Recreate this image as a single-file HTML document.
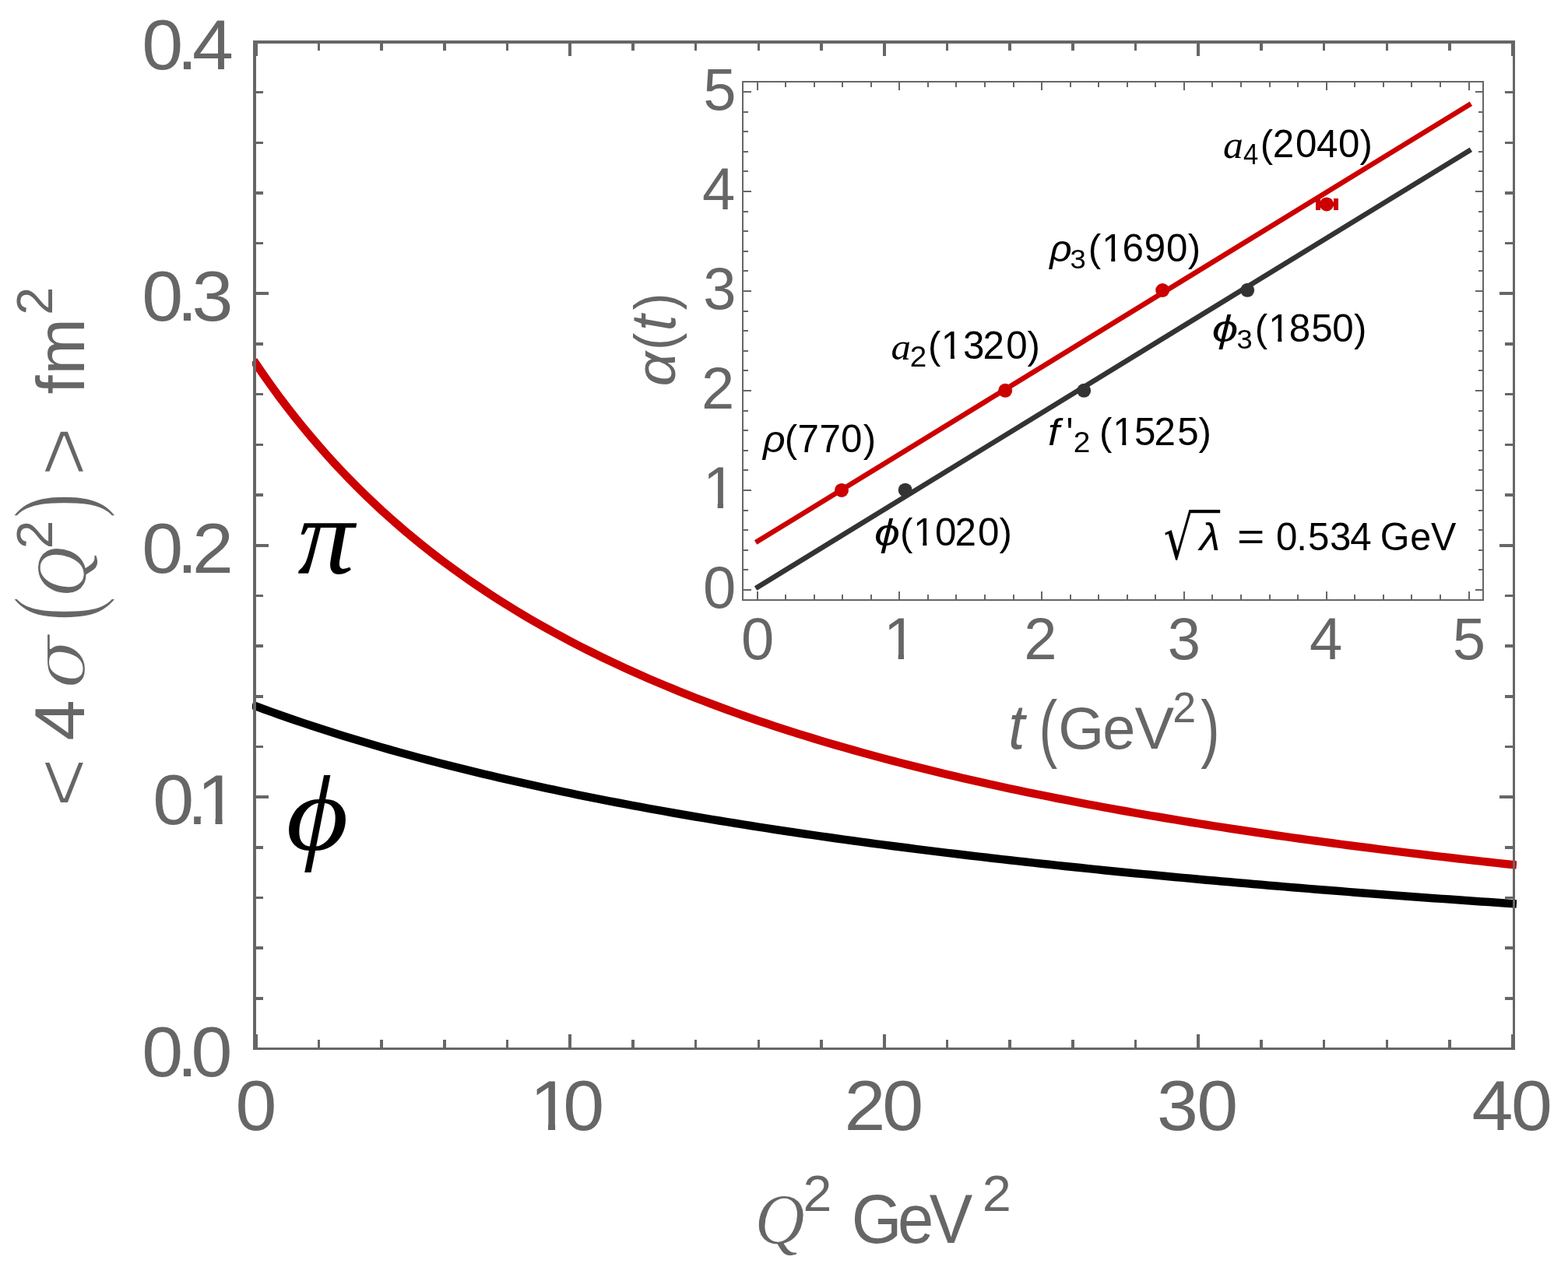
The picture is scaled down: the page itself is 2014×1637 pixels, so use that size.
<!DOCTYPE html>
<html lang="en"><head><meta charset="utf-8"><title>Transverse size and Regge trajectories</title>
<style>html,body{margin:0;padding:0;background:#fff;width:2014px;height:1637px;overflow:hidden}svg{display:block}text{font-kerning:none;white-space:pre}</style></head>
<body>
<svg width="2014" height="1637" viewBox="0 0 2014 1637">
<rect x="0" y="0" width="2014" height="1637" fill="#ffffff"/>
<defs><clipPath id="mc"><rect x="324" y="40" width="1624" height="1320"/></clipPath></defs>
<polyline points="328.8,467.57 338.89,482.28 348.97,496.51 359.06,510.28 369.15,523.61 379.23,536.53 389.32,549.04 399.41,561.18 409.5,572.95 419.58,584.37 429.67,595.47 439.76,606.24 449.84,616.71 459.93,626.89 470.02,636.79 480.1,646.42 490.19,655.79 500.28,664.91 510.36,673.8 520.45,682.46 530.54,690.9 540.62,699.13 550.71,707.15 560.8,714.98 570.88,722.62 580.97,730.08 591.06,737.36 601.15,744.47 611.23,751.42 621.32,758.21 631.41,764.84 641.49,771.33 651.58,777.68 661.67,783.88 671.75,789.96 681.84,795.9 691.93,801.72 702.01,807.42 712.1,813 722.19,818.46 732.28,823.82 742.36,829.06 752.45,834.21 762.54,839.25 772.62,844.19 782.71,849.04 792.8,853.8 802.88,858.46 812.97,863.04 823.06,867.54 833.14,871.95 843.23,876.28 853.32,880.53 863.4,884.71 873.49,888.81 883.58,892.84 893.66,896.8 903.75,900.7 913.84,904.52 923.93,908.28 934.01,911.98 944.1,915.61 954.19,919.19 964.27,922.71 974.36,926.16 984.45,929.57 994.53,932.92 1004.62,936.21 1014.71,939.46 1024.79,942.65 1034.88,945.79 1044.97,948.89 1055.06,951.93 1065.14,954.94 1075.23,957.89 1085.32,960.8 1095.4,963.67 1105.49,966.5 1115.58,969.28 1125.66,972.03 1135.75,974.73 1145.84,977.4 1155.92,980.03 1166.01,982.62 1176.1,985.18 1186.18,987.69 1196.27,990.18 1206.36,992.63 1216.45,995.05 1226.53,997.43 1236.62,999.78 1246.71,1002.11 1256.79,1004.4 1266.88,1006.66 1276.97,1008.89 1287.05,1011.09 1297.14,1013.26 1307.23,1015.41 1317.31,1017.53 1327.4,1019.62 1337.49,1021.68 1347.57,1023.72 1357.66,1025.73 1367.75,1027.72 1377.84,1029.69 1387.92,1031.63 1398.01,1033.54 1408.1,1035.44 1418.18,1037.31 1428.27,1039.16 1438.36,1040.98 1448.44,1042.79 1458.53,1044.57 1468.62,1046.34 1478.7,1048.08 1488.79,1049.8 1498.88,1051.5 1508.96,1053.19 1519.05,1054.85 1529.14,1056.5 1539.23,1058.13 1549.31,1059.74 1559.4,1061.33 1569.49,1062.9 1579.57,1064.46 1589.66,1066 1599.75,1067.52 1609.83,1069.03 1619.92,1070.52 1630.01,1071.99 1640.09,1073.45 1650.18,1074.9 1660.27,1076.33 1670.35,1077.74 1680.44,1079.14 1690.53,1080.52 1700.62,1081.89 1710.7,1083.25 1720.79,1084.59 1730.88,1085.92 1740.96,1087.24 1751.05,1088.54 1761.14,1089.83 1771.22,1091.11 1781.31,1092.37 1791.4,1093.62 1801.48,1094.86 1811.57,1096.09 1821.66,1097.31 1831.74,1098.51 1841.83,1099.7 1851.92,1100.88 1862.01,1102.05 1872.09,1103.21 1882.18,1104.36 1892.27,1105.5 1902.35,1106.62 1912.44,1107.74 1922.53,1108.85 1932.61,1109.94 1942.7,1111.03" fill="none" stroke="#cc0000" stroke-width="10.5" stroke-linecap="square" stroke-linejoin="round" clip-path="url(#mc)"/>
<polyline points="328.8,907.53 338.89,911.24 348.97,914.89 359.06,918.48 369.15,922.01 379.23,925.48 389.32,928.89 399.41,932.25 409.5,935.56 419.58,938.81 429.67,942.01 439.76,945.17 449.84,948.27 459.93,951.33 470.02,954.34 480.1,957.3 490.19,960.22 500.28,963.1 510.36,965.94 520.45,968.73 530.54,971.48 540.62,974.2 550.71,976.87 560.8,979.51 570.88,982.1 580.97,984.67 591.06,987.19 601.15,989.69 611.23,992.14 621.32,994.57 631.41,996.96 641.49,999.32 651.58,1001.64 661.67,1003.94 671.75,1006.21 681.84,1008.44 691.93,1010.65 702.01,1012.83 712.1,1014.98 722.19,1017.1 732.28,1019.2 742.36,1021.27 752.45,1023.31 762.54,1025.33 772.62,1027.33 782.71,1029.3 792.8,1031.24 802.88,1033.16 812.97,1035.06 823.06,1036.94 833.14,1038.79 843.23,1040.62 853.32,1042.43 863.4,1044.22 873.49,1045.98 883.58,1047.73 893.66,1049.46 903.75,1051.17 913.84,1052.85 923.93,1054.52 934.01,1056.17 944.1,1057.8 954.19,1059.42 964.27,1061.01 974.36,1062.59 984.45,1064.15 994.53,1065.69 1004.62,1067.22 1014.71,1068.73 1024.79,1070.22 1034.88,1071.7 1044.97,1073.16 1055.06,1074.61 1065.14,1076.04 1075.23,1077.46 1085.32,1078.86 1095.4,1080.25 1105.49,1081.62 1115.58,1082.98 1125.66,1084.33 1135.75,1085.66 1145.84,1086.98 1155.92,1088.28 1166.01,1089.57 1176.1,1090.85 1186.18,1092.12 1196.27,1093.37 1206.36,1094.62 1216.45,1095.85 1226.53,1097.06 1236.62,1098.27 1246.71,1099.47 1256.79,1100.65 1266.88,1101.82 1276.97,1102.98 1287.05,1104.13 1297.14,1105.27 1307.23,1106.4 1317.31,1107.52 1327.4,1108.63 1337.49,1109.72 1347.57,1110.81 1357.66,1111.89 1367.75,1112.96 1377.84,1114.02 1387.92,1115.07 1398.01,1116.1 1408.1,1117.13 1418.18,1118.16 1428.27,1119.17 1438.36,1120.17 1448.44,1121.17 1458.53,1122.15 1468.62,1123.13 1478.7,1124.1 1488.79,1125.06 1498.88,1126.01 1508.96,1126.95 1519.05,1127.89 1529.14,1128.82 1539.23,1129.74 1549.31,1130.65 1559.4,1131.56 1569.49,1132.45 1579.57,1133.34 1589.66,1134.23 1599.75,1135.1 1609.83,1135.97 1619.92,1136.83 1630.01,1137.69 1640.09,1138.53 1650.18,1139.37 1660.27,1140.21 1670.35,1141.04 1680.44,1141.86 1690.53,1142.67 1700.62,1143.48 1710.7,1144.28 1720.79,1145.07 1730.88,1145.86 1740.96,1146.65 1751.05,1147.42 1761.14,1148.19 1771.22,1148.96 1781.31,1149.72 1791.4,1150.47 1801.48,1151.22 1811.57,1151.96 1821.66,1152.7 1831.74,1153.43 1841.83,1154.15 1851.92,1154.87 1862.01,1155.59 1872.09,1156.3 1882.18,1157 1892.27,1157.7 1902.35,1158.39 1912.44,1159.08 1922.53,1159.76 1932.61,1160.44 1942.7,1161.12" fill="none" stroke="#000000" stroke-width="10.5" stroke-linecap="square" stroke-linejoin="round" clip-path="url(#mc)"/>
<g fill="#666666" shape-rendering="crispEdges">
<rect x="325" y="52" width="1621" height="4"/>
<rect x="325" y="1346" width="1621" height="3"/>
<rect x="325" y="52" width="4" height="1297"/>
<rect x="1943" y="52" width="3" height="1297"/>
<rect x="326.8" y="56" width="4" height="16"/>
<rect x="326.8" y="1329" width="4" height="17"/>
<rect x="407.75" y="56" width="3.5" height="9"/>
<rect x="407.75" y="1336" width="3.5" height="10"/>
<rect x="488.44" y="56" width="3.5" height="9"/>
<rect x="488.44" y="1336" width="3.5" height="10"/>
<rect x="569.13" y="56" width="3.5" height="9"/>
<rect x="569.13" y="1336" width="3.5" height="10"/>
<rect x="649.83" y="56" width="3.5" height="9"/>
<rect x="649.83" y="1336" width="3.5" height="10"/>
<rect x="730.28" y="56" width="4" height="16"/>
<rect x="730.28" y="1329" width="4" height="17"/>
<rect x="811.22" y="56" width="3.5" height="9"/>
<rect x="811.22" y="1336" width="3.5" height="10"/>
<rect x="891.91" y="56" width="3.5" height="9"/>
<rect x="891.91" y="1336" width="3.5" height="10"/>
<rect x="972.61" y="56" width="3.5" height="9"/>
<rect x="972.61" y="1336" width="3.5" height="10"/>
<rect x="1053.31" y="56" width="3.5" height="9"/>
<rect x="1053.31" y="1336" width="3.5" height="10"/>
<rect x="1133.75" y="56" width="4" height="16"/>
<rect x="1133.75" y="1329" width="4" height="17"/>
<rect x="1214.7" y="56" width="3.5" height="9"/>
<rect x="1214.7" y="1336" width="3.5" height="10"/>
<rect x="1295.39" y="56" width="3.5" height="9"/>
<rect x="1295.39" y="1336" width="3.5" height="10"/>
<rect x="1376.09" y="56" width="3.5" height="9"/>
<rect x="1376.09" y="1336" width="3.5" height="10"/>
<rect x="1456.78" y="56" width="3.5" height="9"/>
<rect x="1456.78" y="1336" width="3.5" height="10"/>
<rect x="1537.23" y="56" width="4" height="16"/>
<rect x="1537.23" y="1329" width="4" height="17"/>
<rect x="1618.17" y="56" width="3.5" height="9"/>
<rect x="1618.17" y="1336" width="3.5" height="10"/>
<rect x="1698.87" y="56" width="3.5" height="9"/>
<rect x="1698.87" y="1336" width="3.5" height="10"/>
<rect x="1779.56" y="56" width="3.5" height="9"/>
<rect x="1779.56" y="1336" width="3.5" height="10"/>
<rect x="1860.26" y="56" width="3.5" height="9"/>
<rect x="1860.26" y="1336" width="3.5" height="10"/>
<rect x="1940.7" y="56" width="4" height="16"/>
<rect x="1940.7" y="1329" width="4" height="17"/>
<rect x="329" y="1281.08" width="9" height="3.5"/>
<rect x="1933" y="1281.08" width="10" height="3.5"/>
<rect x="329" y="1216.4" width="9" height="3.5"/>
<rect x="1933" y="1216.4" width="10" height="3.5"/>
<rect x="329" y="1151.72" width="9" height="3.5"/>
<rect x="1933" y="1151.72" width="10" height="3.5"/>
<rect x="329" y="1087.05" width="9" height="3.5"/>
<rect x="1933" y="1087.05" width="10" height="3.5"/>
<rect x="329" y="1022.12" width="16" height="4"/>
<rect x="1926" y="1022.12" width="17" height="4"/>
<rect x="329" y="957.7" width="9" height="3.5"/>
<rect x="1933" y="957.7" width="10" height="3.5"/>
<rect x="329" y="893.02" width="9" height="3.5"/>
<rect x="1933" y="893.02" width="10" height="3.5"/>
<rect x="329" y="828.35" width="9" height="3.5"/>
<rect x="1933" y="828.35" width="10" height="3.5"/>
<rect x="329" y="763.68" width="9" height="3.5"/>
<rect x="1933" y="763.68" width="10" height="3.5"/>
<rect x="329" y="698.75" width="16" height="4"/>
<rect x="1926" y="698.75" width="17" height="4"/>
<rect x="329" y="634.33" width="9" height="3.5"/>
<rect x="1933" y="634.33" width="10" height="3.5"/>
<rect x="329" y="569.65" width="9" height="3.5"/>
<rect x="1933" y="569.65" width="10" height="3.5"/>
<rect x="329" y="504.98" width="9" height="3.5"/>
<rect x="1933" y="504.98" width="10" height="3.5"/>
<rect x="329" y="440.3" width="9" height="3.5"/>
<rect x="1933" y="440.3" width="10" height="3.5"/>
<rect x="329" y="375.38" width="16" height="4"/>
<rect x="1926" y="375.38" width="17" height="4"/>
<rect x="329" y="310.95" width="9" height="3.5"/>
<rect x="1933" y="310.95" width="10" height="3.5"/>
<rect x="329" y="246.27" width="9" height="3.5"/>
<rect x="1933" y="246.27" width="10" height="3.5"/>
<rect x="329" y="181.6" width="9" height="3.5"/>
<rect x="1933" y="181.6" width="10" height="3.5"/>
<rect x="329" y="116.92" width="9" height="3.5"/>
<rect x="1933" y="116.92" width="10" height="3.5"/>
</g>
<g fill="#666666" shape-rendering="crispEdges">
<rect x="953" y="104" width="953" height="2"/>
<rect x="953" y="770" width="953" height="2"/>
<rect x="953" y="104" width="2" height="668"/>
<rect x="1904" y="104" width="2" height="668"/>
<rect x="972" y="106" width="2" height="10"/>
<rect x="972" y="760" width="2" height="10"/>
<rect x="1008" y="106" width="2" height="6"/>
<rect x="1008" y="764" width="2" height="6"/>
<rect x="1045" y="106" width="2" height="6"/>
<rect x="1045" y="764" width="2" height="6"/>
<rect x="1081" y="106" width="2" height="6"/>
<rect x="1081" y="764" width="2" height="6"/>
<rect x="1118" y="106" width="2" height="6"/>
<rect x="1118" y="764" width="2" height="6"/>
<rect x="1154" y="106" width="2" height="10"/>
<rect x="1154" y="760" width="2" height="10"/>
<rect x="1191" y="106" width="2" height="6"/>
<rect x="1191" y="764" width="2" height="6"/>
<rect x="1227" y="106" width="2" height="6"/>
<rect x="1227" y="764" width="2" height="6"/>
<rect x="1264" y="106" width="2" height="6"/>
<rect x="1264" y="764" width="2" height="6"/>
<rect x="1301" y="106" width="2" height="6"/>
<rect x="1301" y="764" width="2" height="6"/>
<rect x="1337" y="106" width="2" height="10"/>
<rect x="1337" y="760" width="2" height="10"/>
<rect x="1374" y="106" width="2" height="6"/>
<rect x="1374" y="764" width="2" height="6"/>
<rect x="1410" y="106" width="2" height="6"/>
<rect x="1410" y="764" width="2" height="6"/>
<rect x="1447" y="106" width="2" height="6"/>
<rect x="1447" y="764" width="2" height="6"/>
<rect x="1483" y="106" width="2" height="6"/>
<rect x="1483" y="764" width="2" height="6"/>
<rect x="1520" y="106" width="2" height="10"/>
<rect x="1520" y="760" width="2" height="10"/>
<rect x="1556" y="106" width="2" height="6"/>
<rect x="1556" y="764" width="2" height="6"/>
<rect x="1593" y="106" width="2" height="6"/>
<rect x="1593" y="764" width="2" height="6"/>
<rect x="1630" y="106" width="2" height="6"/>
<rect x="1630" y="764" width="2" height="6"/>
<rect x="1666" y="106" width="2" height="6"/>
<rect x="1666" y="764" width="2" height="6"/>
<rect x="1703" y="106" width="2" height="10"/>
<rect x="1703" y="760" width="2" height="10"/>
<rect x="1739" y="106" width="2" height="6"/>
<rect x="1739" y="764" width="2" height="6"/>
<rect x="1776" y="106" width="2" height="6"/>
<rect x="1776" y="764" width="2" height="6"/>
<rect x="1812" y="106" width="2" height="6"/>
<rect x="1812" y="764" width="2" height="6"/>
<rect x="1849" y="106" width="2" height="6"/>
<rect x="1849" y="764" width="2" height="6"/>
<rect x="1886" y="106" width="2" height="10"/>
<rect x="1886" y="760" width="2" height="10"/>
<rect x="955" y="757" width="10" height="2"/>
<rect x="1895" y="757" width="9" height="2"/>
<rect x="955" y="731" width="6" height="2"/>
<rect x="1899" y="731" width="5" height="2"/>
<rect x="955" y="706" width="6" height="2"/>
<rect x="1899" y="706" width="5" height="2"/>
<rect x="955" y="680" width="6" height="2"/>
<rect x="1899" y="680" width="5" height="2"/>
<rect x="955" y="655" width="6" height="2"/>
<rect x="1899" y="655" width="5" height="2"/>
<rect x="955" y="629" width="10" height="2"/>
<rect x="1895" y="629" width="9" height="2"/>
<rect x="955" y="603" width="6" height="2"/>
<rect x="1899" y="603" width="5" height="2"/>
<rect x="955" y="578" width="6" height="2"/>
<rect x="1899" y="578" width="5" height="2"/>
<rect x="955" y="552" width="6" height="2"/>
<rect x="1899" y="552" width="5" height="2"/>
<rect x="955" y="527" width="6" height="2"/>
<rect x="1899" y="527" width="5" height="2"/>
<rect x="955" y="501" width="10" height="2"/>
<rect x="1895" y="501" width="9" height="2"/>
<rect x="955" y="475" width="6" height="2"/>
<rect x="1899" y="475" width="5" height="2"/>
<rect x="955" y="450" width="6" height="2"/>
<rect x="1899" y="450" width="5" height="2"/>
<rect x="955" y="424" width="6" height="2"/>
<rect x="1899" y="424" width="5" height="2"/>
<rect x="955" y="399" width="6" height="2"/>
<rect x="1899" y="399" width="5" height="2"/>
<rect x="955" y="373" width="10" height="2"/>
<rect x="1895" y="373" width="9" height="2"/>
<rect x="955" y="347" width="6" height="2"/>
<rect x="1899" y="347" width="5" height="2"/>
<rect x="955" y="322" width="6" height="2"/>
<rect x="1899" y="322" width="5" height="2"/>
<rect x="955" y="296" width="6" height="2"/>
<rect x="1899" y="296" width="5" height="2"/>
<rect x="955" y="271" width="6" height="2"/>
<rect x="1899" y="271" width="5" height="2"/>
<rect x="955" y="245" width="10" height="2"/>
<rect x="1895" y="245" width="9" height="2"/>
<rect x="955" y="219" width="6" height="2"/>
<rect x="1899" y="219" width="5" height="2"/>
<rect x="955" y="194" width="6" height="2"/>
<rect x="1899" y="194" width="5" height="2"/>
<rect x="955" y="168" width="6" height="2"/>
<rect x="1899" y="168" width="5" height="2"/>
<rect x="955" y="143" width="6" height="2"/>
<rect x="1899" y="143" width="5" height="2"/>
<rect x="955" y="117" width="10" height="2"/>
<rect x="1895" y="117" width="9" height="2"/>
</g>
<line x1="973.4" y1="695.35" x2="1886.6" y2="134.85" stroke="#cc0000" stroke-width="6.5" stroke-linecap="square"/>
<line x1="973.4" y1="754.25" x2="1886.6" y2="193.85" stroke="#333333" stroke-width="6.5" stroke-linecap="square"/>
<circle cx="1081" cy="629.9" r="9" fill="#cc0000"/>
<circle cx="1291.2" cy="501.8" r="9" fill="#cc0000"/>
<circle cx="1493.2" cy="373" r="9" fill="#cc0000"/>
<circle cx="1162.7" cy="629.7" r="9" fill="#333333"/>
<circle cx="1392.2" cy="501.8" r="9" fill="#333333"/>
<circle cx="1602.2" cy="372.8" r="9" fill="#333333"/>
<g fill="#cc0000">
<rect x="1690" y="255" width="6" height="15"/><rect x="1713" y="255" width="6" height="15"/><rect x="1692" y="260" width="25" height="5"/>
<circle cx="1704" cy="262.4" r="9"/></g>
<text transform="translate(0,89) scale(1.05,1)" x="173.6 216.49 235.16" y="0" font-family="'Liberation Sans', sans-serif" font-size="90.6" fill="#666666">0.4</text>
<text transform="translate(0,412.38) scale(1.05,1)" x="173.6 216.49 234.74" y="0" font-family="'Liberation Sans', sans-serif" font-size="90.6" fill="#666666">0.3</text>
<text transform="translate(0,735.75) scale(1.05,1)" x="173.6 216.49 235.35" y="0" font-family="'Liberation Sans', sans-serif" font-size="90.6" fill="#666666">0.2</text>
<text transform="translate(0,1059.12) scale(1.05,1)" x="186.84 228.97 240.92" y="0" font-family="'Liberation Sans', sans-serif" font-size="90.6" fill="#666666">0.1</text>
<text transform="translate(0,1382.5) scale(1.05,1)" x="173.6 216.49 233.7" y="0" font-family="'Liberation Sans', sans-serif" font-size="90.6" fill="#666666">0.0</text>
<text transform="translate(0,1452.4) scale(1.05,1)" x="287.98" y="0" font-family="'Liberation Sans', sans-serif" font-size="90.6" fill="#666666">0</text>
<text transform="translate(0,1452.4) scale(1.05,1)" x="648.06 688.75" y="0" font-family="'Liberation Sans', sans-serif" font-size="90.6" fill="#666666">10</text>
<text transform="translate(0,1452.4) scale(1.05,1)" x="1032.97 1079.41" y="0" font-family="'Liberation Sans', sans-serif" font-size="90.6" fill="#666666">20</text>
<text transform="translate(0,1452.4) scale(1.05,1)" x="1415.22 1464.08" y="0" font-family="'Liberation Sans', sans-serif" font-size="90.6" fill="#666666">30</text>
<text transform="translate(0,1452.4) scale(1.05,1)" x="1800.4 1848.56" y="0" font-family="'Liberation Sans', sans-serif" font-size="90.6" fill="#666666">40</text>
<text transform="translate(969.36,1598.23) scale(0.8945,0.9233)" x="0" y="0" font-family="'Liberation Serif', serif" font-size="100" font-style="italic" stroke="#ffffff" stroke-width="1.1" stroke-linejoin="round" fill="#666666">Q</text>
<text transform="translate(1031.57,1556.1) scale(0.6629,0.6488)" x="0" y="0" font-family="'Liberation Sans', sans-serif" font-size="100" fill="#666666">2</text>
<text transform="translate(0,1597) scale(0.93,1)" x="1176.04 1239.75 1283.69" y="0" font-family="'Liberation Sans', sans-serif" font-size="89.5" fill="#666666">GeV</text>
<text transform="translate(1261.74,1556.1) scale(0.6673,0.6488)" x="0" y="0" font-family="'Liberation Sans', sans-serif" font-size="100" fill="#666666">2</text>
<text transform="translate(115.65,1037.45) rotate(-90) scale(1.095,1.024)" x="0" y="0" font-family="'Liberation Sans', sans-serif" font-size="100" stroke="#ffffff" stroke-width="1.79" stroke-linejoin="round" fill="#666666">&lt;</text>
<text transform="translate(108,951.77) rotate(-90) scale(0.9446,0.9026)" x="0" y="0" font-family="'Liberation Sans', sans-serif" font-size="100" fill="#666666">4</text>
<text transform="translate(108.79,885.48) rotate(-90) scale(1.0195,0.9265)" x="0" y="0" font-family="'DejaVu Serif', serif" font-size="100" font-style="italic" stroke="#ffffff" stroke-width="2.26" stroke-linejoin="round" fill="#666666">σ</text>
<text transform="translate(117.62,798.26) rotate(-90) scale(0.9695,1.4646)" x="0" y="0" font-family="'Liberation Serif', serif" font-size="100" stroke="#ffffff" stroke-width="1.64" stroke-linejoin="round" fill="#666666">(</text>
<text transform="translate(109.63,767.44) rotate(-90) scale(0.896,0.9233)" x="0" y="0" font-family="'Liberation Serif', serif" font-size="100" font-style="italic" stroke="#ffffff" stroke-width="1.1" stroke-linejoin="round" fill="#666666">Q</text>
<text transform="translate(67,705.21) rotate(-90) scale(0.6585,0.643)" x="0" y="0" font-family="'Liberation Sans', sans-serif" font-size="100" fill="#666666">2</text>
<text transform="translate(117.62,666.36) rotate(-90) scale(0.9812,1.4646)" x="0" y="0" font-family="'Liberation Serif', serif" font-size="100" stroke="#ffffff" stroke-width="1.64" stroke-linejoin="round" fill="#666666">)</text>
<text transform="translate(115.65,612.01) rotate(-90) scale(1.0868,1.024)" x="0" y="0" font-family="'Liberation Sans', sans-serif" font-size="100" stroke="#ffffff" stroke-width="1.8" stroke-linejoin="round" fill="#666666">&gt;</text>
<text transform="translate(108,0) rotate(-90) scale(1,1)" x="-506.43 -481.48" y="0" font-family="'Liberation Sans', sans-serif" font-size="87" fill="#666666">fm</text>
<text transform="translate(67,404.75) rotate(-90) scale(0.6454,0.6488)" x="0" y="0" font-family="'Liberation Sans', sans-serif" font-size="100" fill="#666666">2</text>
<text transform="translate(382.22,736.53) scale(1.4521,1.4059)" x="0" y="0" font-family="'Liberation Serif', serif" font-size="100" font-style="italic" fill="#000">π</text>
<text transform="translate(367.55,1091.62) scale(1.5471,1.3753)" x="0" y="0" font-family="'Liberation Serif', serif" font-size="100" font-style="italic" fill="#000">ϕ</text>
<text transform="translate(0,141.3) scale(1,1)" x="903.26" y="0" font-family="'Liberation Sans', sans-serif" font-size="76" fill="#666666">5</text>
<text transform="translate(0,269.3) scale(1,1)" x="901.96" y="0" font-family="'Liberation Sans', sans-serif" font-size="76" fill="#666666">4</text>
<text transform="translate(0,397.3) scale(1,1)" x="903.21" y="0" font-family="'Liberation Sans', sans-serif" font-size="76" fill="#666666">3</text>
<text transform="translate(0,525.3) scale(1,1)" x="901.08" y="0" font-family="'Liberation Sans', sans-serif" font-size="76" fill="#666666">2</text>
<text transform="translate(0,653.3) scale(1,1)" x="902.9" y="0" font-family="'Liberation Sans', sans-serif" font-size="76" fill="#666666">1</text>
<text transform="translate(0,781.3) scale(1,1)" x="902.93" y="0" font-family="'Liberation Sans', sans-serif" font-size="76" fill="#666666">0</text>
<text transform="translate(0,847) scale(1,1)" x="951.93" y="0" font-family="'Liberation Sans', sans-serif" font-size="76" fill="#666666">0</text>
<text transform="translate(0,847) scale(1,1)" x="1134.9" y="0" font-family="'Liberation Sans', sans-serif" font-size="76" fill="#666666">1</text>
<text transform="translate(0,847) scale(1,1)" x="1315.18" y="0" font-family="'Liberation Sans', sans-serif" font-size="76" fill="#666666">2</text>
<text transform="translate(0,847) scale(1,1)" x="1499.81" y="0" font-family="'Liberation Sans', sans-serif" font-size="76" fill="#666666">3</text>
<text transform="translate(0,847) scale(1,1)" x="1681.96" y="0" font-family="'Liberation Sans', sans-serif" font-size="76" fill="#666666">4</text>
<text transform="translate(0,847) scale(1,1)" x="1865.66" y="0" font-family="'Liberation Sans', sans-serif" font-size="76" fill="#666666">5</text>
<text transform="translate(1295.35,962.2) scale(0.76,0.8229)" x="0" y="0" font-family="'Liberation Sans', sans-serif" font-size="100" font-style="italic" fill="#666666">t</text>
<text transform="translate(1334.58,968) scale(0.7128,0.966)" x="0" y="0" font-family="'Liberation Sans', sans-serif" font-size="100" fill="#666666">(</text>
<text transform="translate(0,962.3) scale(0.99,1)" x="1372.92 1430.59 1472.19" y="0" font-family="'Liberation Sans', sans-serif" font-size="76.5" fill="#666666">GeV</text>
<text transform="translate(1506.3,927.5) scale(0.5378,0.5514)" x="0" y="0" font-family="'Liberation Sans', sans-serif" font-size="100" fill="#666666">2</text>
<text transform="translate(1542.27,968) scale(0.7355,0.966)" x="0" y="0" font-family="'Liberation Sans', sans-serif" font-size="100" fill="#666666">)</text>
<text transform="translate(867.25,496.58) rotate(-90) scale(0.7845,0.7301)" x="0" y="0" font-family="'Liberation Sans', sans-serif" font-size="100" font-style="italic" fill="#666666">α</text>
<text transform="translate(866.57,449.99) rotate(-90) scale(0.6751,0.7406)" x="0" y="0" font-family="'Liberation Sans', sans-serif" font-size="100" fill="#666666">(</text>
<text transform="translate(867.19,425.27) rotate(-90) scale(0.7413,0.8244)" x="0" y="0" font-family="'Liberation Sans', sans-serif" font-size="100" font-style="italic" fill="#666666">t</text>
<text transform="translate(866.57,398.48) rotate(-90) scale(0.6563,0.7406)" x="0" y="0" font-family="'Liberation Sans', sans-serif" font-size="100" fill="#666666">)</text>
<text transform="translate(980.12,581.16) scale(0.4996,0.4788)" x="0" y="0" font-family="'Liberation Sans', sans-serif" font-size="100" font-style="italic" fill="#000000">ρ</text>
<text transform="translate(0,580.9) scale(0.99,1)" x="1018.02 1034.82 1063.1 1090.88 1119.91" y="0" font-family="'Liberation Sans', sans-serif" font-size="49.8" fill="#000000">(770)</text>
<text transform="translate(1144.38,461.6) scale(0.5108,0.4907)" x="0" y="0" font-family="'Liberation Serif', serif" font-size="100" font-style="italic" fill="#000000">a</text>
<text transform="translate(1168.86,470.5) scale(0.3863,0.3609)" x="0" y="0" font-family="'Liberation Sans', sans-serif" font-size="100" fill="#000000">2</text>
<text transform="translate(0,461.1) scale(0.99,1)" x="1203.98 1221.08 1249.62 1275.37 1305.43 1332.74" y="0" font-family="'Liberation Sans', sans-serif" font-size="49.8" fill="#000000">(1320)</text>
<text transform="translate(1348.31,335.85) scale(0.4961,0.4748)" x="0" y="0" font-family="'Liberation Sans', sans-serif" font-size="100" font-style="italic" fill="#000000">ρ</text>
<text transform="translate(1374.51,344.66) scale(0.3649,0.3503)" x="0" y="0" font-family="'Liberation Sans', sans-serif" font-size="100" fill="#000000">3</text>
<text transform="translate(0,335.7) scale(0.99,1)" x="1411.96 1429.46 1455.96 1484.64 1513.21 1541.22" y="0" font-family="'Liberation Sans', sans-serif" font-size="49.8" fill="#000000">(1690)</text>
<text transform="translate(1570.96,202.79) scale(0.5178,0.4969)" x="0" y="0" font-family="'Liberation Serif', serif" font-size="100" font-style="italic" fill="#000000">a</text>
<text transform="translate(1596.91,210.7) scale(0.3453,0.3605)" x="0" y="0" font-family="'Liberation Sans', sans-serif" font-size="100" fill="#000000">4</text>
<text transform="translate(0,202) scale(0.99,1)" x="1634.99 1651.23 1680.88 1708.05 1736.44 1764.05" y="0" font-family="'Liberation Sans', sans-serif" font-size="49.8" fill="#000000">(2040)</text>
<text transform="translate(1122.89,700.96) scale(0.5939,0.4838)" x="0" y="0" font-family="'Liberation Sans', sans-serif" font-size="100" font-style="italic" fill="#000000">ϕ</text>
<text transform="translate(0,700.9) scale(0.99,1)" x="1167.62 1185.12 1213.21 1239.01 1268.66 1296.37" y="0" font-family="'Liberation Sans', sans-serif" font-size="49.8" fill="#000000">(1020)</text>
<text transform="translate(1346.09,572.2) scale(0.5385,0.4844)" x="0" y="0" font-family="'Liberation Sans', sans-serif" font-size="100" font-style="italic" fill="#000000">f</text>
<text transform="translate(1369.53,578.11) scale(0.4675,0.5917)" x="0" y="0" font-family="'Liberation Sans', sans-serif" font-size="100" fill="#000000">'</text>
<text transform="translate(1378.85,581.3) scale(0.3885,0.3609)" x="0" y="0" font-family="'Liberation Sans', sans-serif" font-size="100" fill="#000000">2</text>
<text transform="translate(0,572.2) scale(0.99,1)" x="1426.2 1443.7 1471.74 1497.6 1527.6 1554.96" y="0" font-family="'Liberation Sans', sans-serif" font-size="49.8" fill="#000000">(1525)</text>
<text transform="translate(1556.65,439.1) scale(0.604,0.4817)" x="0" y="0" font-family="'Liberation Sans', sans-serif" font-size="100" font-style="italic" fill="#000000">ϕ</text>
<text transform="translate(1588.62,447.75) scale(0.3628,0.3545)" x="0" y="0" font-family="'Liberation Sans', sans-serif" font-size="100" fill="#000000">3</text>
<text transform="translate(0,438.9) scale(0.99,1)" x="1628.02 1645.72 1672.48 1701.24 1728.46 1756.48" y="0" font-family="'Liberation Sans', sans-serif" font-size="49.8" fill="#000000">(1850)</text>
<text transform="translate(1494.5,718.14) scale(0.6042,0.7785)" x="0" y="0" font-family="'DejaVu Serif', serif" font-size="100" fill="#000000">√</text>
<rect x="1528.5" y="655" width="38.7" height="4.2" fill="#000000"/>
<text transform="translate(1540.85,707.2) scale(0.5388,0.4982)" x="0" y="0" font-family="'Liberation Sans', sans-serif" font-size="100" font-style="italic" fill="#000000">λ</text>
<text transform="translate(1589.05,705.99) scale(0.6051,0.4996)" x="0" y="0" font-family="'Liberation Sans', sans-serif" font-size="100" fill="#000000">=</text>
<text transform="translate(0,707) scale(0.99,1)" x="1655.63 1682.12 1696.89 1725.38 1751.89" y="0" font-family="'Liberation Sans', sans-serif" font-size="49.8" fill="#000000">0.534</text>
<text transform="translate(0,707) scale(0.97,1)" x="1827.49 1867.26 1894.93" y="0" font-family="'Liberation Sans', sans-serif" font-size="50" fill="#000000">GeV</text>
<rect x="257.72" y="1051.03" width="18.82" height="9.39" fill="#ffffff"/>
<rect x="285.61" y="1051.03" width="18.07" height="9.39" fill="#ffffff"/>
<rect x="685.22" y="1444.31" width="18.82" height="9.39" fill="#ffffff"/>
<rect x="713.11" y="1444.31" width="18.07" height="9.39" fill="#ffffff"/>
<rect x="906.7" y="646.3" width="14.98" height="8.3" fill="#ffffff"/>
<rect x="929.04" y="646.3" width="14.44" height="8.3" fill="#ffffff"/>
<rect x="1138.7" y="840" width="14.98" height="8.3" fill="#ffffff"/>
<rect x="1161.04" y="840" width="14.44" height="8.3" fill="#ffffff"/>
<rect x="1211.33" y="456.06" width="9.61" height="6.33" fill="#ffffff"/>
<rect x="1225.93" y="456.06" width="9.37" height="6.33" fill="#ffffff"/>
<rect x="1417.63" y="330.66" width="9.61" height="6.33" fill="#ffffff"/>
<rect x="1432.23" y="330.66" width="9.37" height="6.33" fill="#ffffff"/>
<rect x="1175.73" y="695.87" width="9.61" height="6.33" fill="#ffffff"/>
<rect x="1190.33" y="695.87" width="9.37" height="6.33" fill="#ffffff"/>
<rect x="1431.73" y="567.17" width="9.61" height="6.33" fill="#ffffff"/>
<rect x="1446.33" y="567.17" width="9.37" height="6.33" fill="#ffffff"/>
<rect x="1631.73" y="433.86" width="9.61" height="6.33" fill="#ffffff"/>
<rect x="1646.33" y="433.86" width="9.37" height="6.33" fill="#ffffff"/>
</svg>
</body></html>
